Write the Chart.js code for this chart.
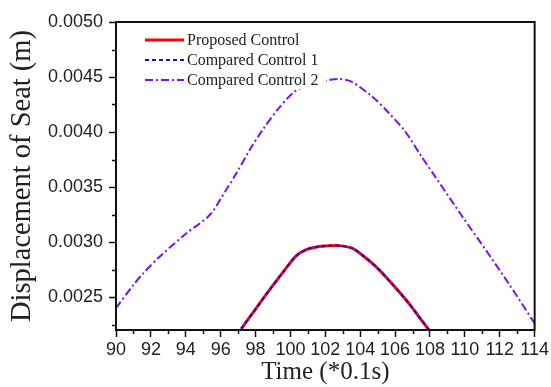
<!DOCTYPE html>
<html>
<head>
<meta charset="utf-8">
<script src="https://cdn.jsdelivr.net/npm/chart.js@4"></script>
<style>
html,body{margin:0;padding:0;background:#fff;}
canvas{display:block;}
</style>
</head>
<body>
<canvas id="c" width="551" height="387"></canvas>
<script>
// ---- data ----
const proposedTime   = [97.18, 98.0, 98.8, 99.6, 100.3, 100.9, 101.5, 102.2, 102.8, 103.56, 104.2, 104.9, 105.6, 106.23, 106.8, 107.37, 107.94];
const proposedValue  = [0.00221, 0.00239, 0.002564, 0.00273, 0.00287, 0.00293, 0.002955, 0.002965, 0.002967, 0.002942, 0.00287, 0.002776, 0.00266, 0.002548, 0.00244, 0.00232, 0.00220];
const compared1Time  = [97.18, 98.0, 98.8, 99.6, 100.3, 100.9, 101.5, 102.2, 102.8, 103.56, 104.2, 104.9, 105.6, 106.23, 106.8, 107.37, 107.94];
const compared1Value = [0.00221, 0.00239, 0.002564, 0.00273, 0.00287, 0.00293, 0.002955, 0.002965, 0.002967, 0.002942, 0.00287, 0.002776, 0.00266, 0.002548, 0.00244, 0.00232, 0.00220];
const compared2Time  = [90, 91.0, 91.56, 92.5, 94.04, 95.37, 96.3, 96.9, 97.66, 98.4, 99.3, 100.23, 101.2, 102.23, 102.8, 103.5, 104.7, 105.6, 106.6, 107.5, 108.3, 109.86, 111.2, 112.5, 114];
const compared2Value = [0.00240, 0.00261, 0.002715, 0.002866, 0.00308, 0.003245, 0.00347, 0.003625, 0.003836, 0.004018, 0.00421, 0.004366, 0.00444, 0.004473, 0.004482, 0.004457, 0.00432, 0.00418, 0.00400, 0.00378, 0.003594, 0.00323, 0.002927, 0.002625, 0.00226];
const seriesNames = ['Proposed Control', 'Compared Control 1', 'Compared Control 2'];
const xTickValues = [90, 92, 94, 96, 98, 100, 102, 104, 106, 108, 110, 112, 114];
const xMinorTicks = [91, 93, 95, 97, 99, 101, 103, 105, 107, 109, 111, 113];
const yTickValues = [0.0025, 0.0030, 0.0035, 0.0040, 0.0045, 0.0050];
const yMinorTicks = [0.00225, 0.00275, 0.00325, 0.00375, 0.00425, 0.00475];
const xTitle = 'Time (*0.1s)';
const yTitle = 'Displacement of Seat (m)';

const pts = (t, v) => t.map((x, i) => ({x: x, y: v[i]}));

const SANS = "'Liberation Sans', Arial, sans-serif";
const SERIF = "'Liberation Serif', 'Times New Roman', serif";

const styles = [
  {color: '#ff0000', width: 3, dash: []},
  {color: '#1010d0', width: 2, dash: [4, 3]},
  {color: '#7a10f0', width: 2, dash: [8, 3, 2, 3]}
];

const framePlugin = {
  id: 'frame',
  afterDatasetsDraw(chart) {
    const ctx = chart.ctx;
    // legend (inside plot, top-left)
    ctx.save();
    ctx.fillStyle = '#fff';
    ctx.fillRect(140, 29, 186, 60);
    ctx.font = '16px ' + SERIF;
    ctx.textBaseline = 'middle';
    ctx.fillStyle = '#222';
    const rows = [40, 60, 80];
    chart.data.datasets.forEach((ds, i) => {
      const s = styles[i];
      ctx.beginPath();
      ctx.setLineDash(s.dash);
      ctx.lineWidth = s.width;
      ctx.strokeStyle = s.color;
      ctx.moveTo(145, rows[i]);
      ctx.lineTo(184, rows[i]);
      ctx.stroke();
      ctx.setLineDash([]);
      ctx.fillText(ds.label, 187, rows[i] + 1);
    });
    ctx.restore();
  },
  afterDraw(chart) {
    const ctx = chart.ctx;
    const ca = chart.chartArea;
    const xs = chart.scales.x, ys = chart.scales.y;
    ctx.save();
    ctx.strokeStyle = '#111';
    ctx.lineWidth = 1.5;
    ctx.setLineDash([]);
    ctx.beginPath();
    xMinorTicks.forEach(v => {
      const px = Math.round(xs.getPixelForValue(v)) + 0.5;
      ctx.moveTo(px, ca.bottom);
      ctx.lineTo(px, ca.bottom + 4);
    });
    yMinorTicks.forEach(v => {
      const py = Math.round(ys.getPixelForValue(v)) + 0.5;
      ctx.moveTo(ca.left, py);
      ctx.lineTo(ca.left - 4, py);
    });
    ctx.stroke();
    ctx.lineWidth = 2;
    ctx.strokeRect(ca.left, ca.top, ca.right - ca.left, ca.bottom - ca.top);
    ctx.restore();
  }
};

new Chart(document.getElementById('c'), {
  type: 'line',
  data: {
    datasets: [
      {label: seriesNames[0], data: pts(proposedTime, proposedValue), borderColor: styles[0].color, borderWidth: styles[0].width, borderDash: styles[0].dash, pointRadius: 0, tension: 0.3, order: 3, fill: false},
      {label: seriesNames[1], data: pts(compared1Time, compared1Value), borderColor: styles[1].color, borderWidth: styles[1].width, borderDash: styles[1].dash, pointRadius: 0, tension: 0.3, order: 1, fill: false},
      {label: seriesNames[2], data: pts(compared2Time, compared2Value), borderColor: styles[2].color, borderWidth: styles[2].width, borderDash: styles[2].dash, pointRadius: 0, tension: 0.3, order: 2, fill: false}
    ]
  },
  options: {
    responsive: false,
    animation: false,
    layout: {padding: {left: 0, right: 15, top: 22, bottom: 0}},
    plugins: {legend: {display: false}, tooltip: {enabled: false}},
    scales: {
      x: {
        type: 'linear', min: 90, max: 114,
        afterBuildTicks: s => { s.ticks = xTickValues.map(v => ({value: v})); },
        afterFit: s => { s.height = 57; },
        grid: {display: true, drawOnChartArea: false, drawTicks: true, tickLength: 7, tickWidth: 1.5, tickColor: '#111'},
        border: {display: true, color: '#111', width: 2},
        ticks: {font: {family: SANS, size: 18}, color: '#222', padding: 2, maxRotation: 0, autoSkip: false},
        title: {display: true, text: xTitle, font: {family: SERIF, size: 25, lineHeight: 1}, color: '#222', padding: {top: 0, bottom: 2}}
      },
      y: {
        type: 'linear', min: 0.0022, max: 0.0050,
        afterBuildTicks: s => { s.ticks = yTickValues.map(v => ({value: v})); },
        afterFit: s => { s.width = 116; },
        grid: {display: true, drawOnChartArea: false, drawTicks: true, tickLength: 7, tickWidth: 1.5, tickColor: '#111'},
        border: {display: true, color: '#111', width: 2},
        ticks: {font: {family: SANS, size: 18}, color: '#222', padding: 6, callback: v => v.toFixed(4)},
        title: {display: true, text: yTitle, font: {family: SERIF, size: 28.5, lineHeight: 1}, color: '#222', padding: {top: 8, bottom: 0}}
      }
    }
  },
  plugins: [framePlugin]
});
</script>
</body>
</html>
